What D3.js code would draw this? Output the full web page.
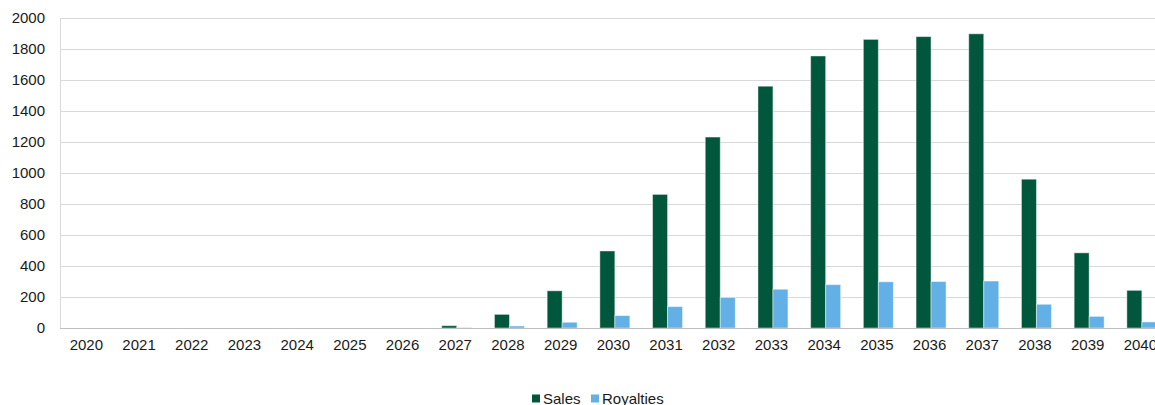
<!DOCTYPE html>
<html><head><meta charset="utf-8">
<script src="https://cdn.jsdelivr.net/npm/d3@7"></script>
<style>body{margin:0;background:#fff;overflow:hidden}svg{display:block}text{font-family:"Liberation Sans",Arial,sans-serif;fill:#1a1a1a}</style>
</head><body>
<script>
const years = ["2020","2021","2022","2023","2024","2025","2026","2027","2028","2029","2030","2031","2032","2033","2034","2035","2036","2037","2038","2039","2040"];
const sales = [0,0,0,0,0,0,0,15,88,240,497,862,1232,1560,1755,1862,1880,1898,960,485,243];
const royalties = [0,0,0,0,0,0,0,2,13,37,80,138,197,250,280,298,300,303,153,75,39];
const yTicks = [0,200,400,600,800,1000,1200,1400,1600,1800,2000];
const seriesNames = ["Sales","Royalties"];
const colors = ["#00573b","#63b0e6"];

const W=1155,H=405;
const svg=d3.select("body").append("svg").attr("width",W).attr("height",H);
const x0=60, y0=328, yTop=18;
const x=d3.scaleBand().domain(years).range([x0,x0+21*52.7]).paddingInner(0).paddingOuter(0);
const y=d3.scaleLinear().domain([0,2000]).range([y0,yTop]);
const bw=15;

// gridlines
svg.append("g").selectAll("line").data(yTicks.filter(d=>d>0)).join("line")
  .attr("x1",x0).attr("x2",W).attr("y1",d=>y(d)+0.5).attr("y2",d=>y(d)+0.5)
  .attr("stroke","#d9d9d9").attr("stroke-width",1);
// left axis line
svg.append("line").attr("x1",x0+0.5).attr("x2",x0+0.5).attr("y1",yTop).attr("y2",y0).attr("stroke","#d9d9d9");

// y labels
const yAxis=d3.axisLeft(y).tickValues(yTicks).tickFormat(d3.format("d")).tickSize(0).tickPadding(15);
const ga=svg.append("g").attr("transform",`translate(${x0},0)`).call(yAxis);
ga.select(".domain").remove();
ga.selectAll("text").attr("font-size","15px").attr("fill","#1a1a1a").style("font-family","Liberation Sans, Arial, sans-serif");

// bars
const data=years.map((yr,i)=>({yr,vals:[sales[i],royalties[i]]}));
const g=svg.append("g");
data.forEach(d=>{
  const c=x(d.yr)+x.bandwidth()/2+1.5;
  d.vals.forEach((v,k)=>{
    if(v<=0) return;
    g.append("rect").attr("x",c-bw+k*bw).attr("width",bw)
      .attr("y",y(v)).attr("height",y0-y(v))
      .attr("fill",colors[k]).attr("stroke","rgba(255,255,255,0.45)").attr("stroke-width",1);
  });
});

// bottom axis
svg.append("line").attr("x1",x0).attr("x2",W).attr("y1",y0+0.5).attr("y2",y0+0.5).attr("stroke","#bfbfbf");
const xAxis=d3.axisBottom(x).tickSize(0).tickPadding(11);
const gx=svg.append("g").attr("transform",`translate(0,${y0})`).call(xAxis);
gx.select(".domain").remove();
gx.selectAll("text").attr("font-size","15px").attr("fill","#1a1a1a").style("font-family","Liberation Sans, Arial, sans-serif");

// legend
const leg=svg.append("g");
const lx=[532,591], tx=[543,602];
seriesNames.forEach((n,k)=>{
  leg.append("rect").attr("x",lx[k]).attr("y",394.5).attr("width",8).attr("height",8).attr("fill",colors[k]);
  leg.append("text").attr("x",tx[k]).attr("y",403.5).attr("font-size","15px").text(n);
});
</script>
</body></html>
